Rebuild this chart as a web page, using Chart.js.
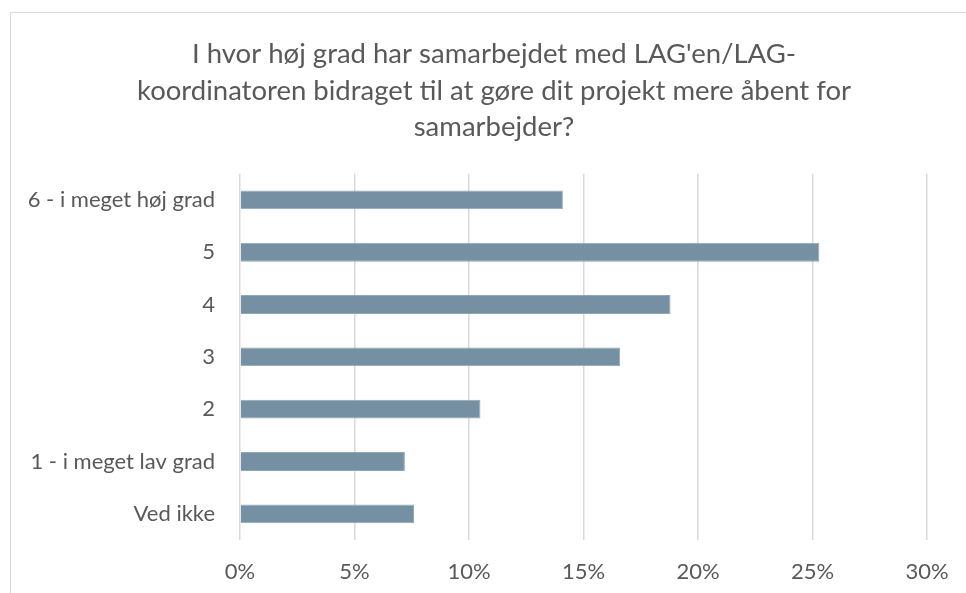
<!DOCTYPE html>
<html>
<head>
<meta charset="utf-8">
<script src="https://cdn.jsdelivr.net/npm/chart.js@4"></script>
<style>
  html, body { margin: 0; padding: 0; width: 966px; height: 593px; overflow: hidden; background: #fff; }
  #frame { position: absolute; left: 10px; top: 12px; width: 966px; height: 600px; border: 1px solid #d9d9d9; background: #fff; }
</style>
</head>
<body>
<div id="frame"><canvas id="chart" width="966" height="600"></canvas></div>
<script>
'use strict';

// answers, top to bottom
const categories = ['6 - i meget høj grad', '5', '4', '3', '2', '1 - i meget lav grad', 'Ved ikke'];
// share of respondents, percent
const shares = [14.1, 25.3, 18.8, 16.6, 10.5, 7.2, 7.6];
const xTicks = [0, 5, 10, 15, 20, 25, 30];

const titleLines = [
    'I hvor høj grad har samarbejdet med LAG\'en/LAG-',
    'koordinatoren bidraget til at gøre dit projekt mere åbent for',
    'samarbejder?'
];

const textColor = '#595959';
const gridColor = '#d9d9d9';
const fontName = 'Lato, "Open Sans", sans-serif';

const ctx = document.getElementById('chart').getContext('2d');
const chart = new Chart(ctx, {
    type: 'bar',
    data: {
        labels: categories,
        datasets: [{
            data: shares,
            backgroundColor: '#7590a2',
            borderColor: '#8fa7b6',
            borderWidth: 1,
            barPercentage: 0.36,
            categoryPercentage: 1
        }]
    },
    options: {
        indexAxis: 'y',
        responsive: false,
        animation: false,
        layout: { padding: 0 },
        plugins: {
            legend: { display: false },
            tooltip: { enabled: false },
            title: {
                display: true,
                text: titleLines,
                color: textColor,
                font: { family: fontName, size: 27.5, weight: 'normal', lineHeight: 1.33 },
                padding: { top: 23, bottom: 28 }
            }
        },
        scales: {
            x: {
                min: 0,
                max: 30,
                afterBuildTicks: (scale) => {
                    scale.ticks = xTicks.map((v) => ({ value: v }));
                },
                afterFit: (scale) => { scale.height = 73; },
                grid: { color: gridColor, lineWidth: 1.5, drawTicks: false },
                border: { display: false },
                ticks: {
                    color: textColor,
                    padding: 19,
                    font: { family: fontName, size: 22 },
                    callback: (v) => v + '%'
                }
            },
            y: {
                afterFit: (scale) => { scale.width = 229; },
                grid: { display: false, drawTicks: false },
                border: { display: false },
                ticks: {
                    color: textColor,
                    padding: 25,
                    font: { family: fontName, size: 22 }
                }
            },
            // empty space on the right of the plot, keeps the title centred on the frame
            yRight: {
                type: 'category',
                position: 'right',
                afterFit: (scale) => { scale.width = 50; },
                grid: { display: false, drawTicks: false },
                border: { display: false },
                ticks: { display: false }
            }
        }
    }
});
</script>
</body>
</html>
